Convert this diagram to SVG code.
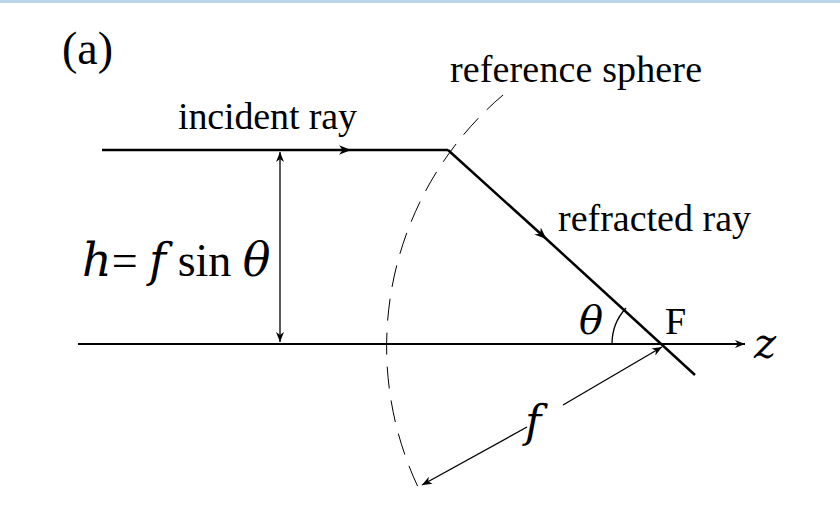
<svg xmlns="http://www.w3.org/2000/svg" width="840" height="510" viewBox="0 0 840 510">
<style>
text{font-family:"Liberation Serif",serif;fill:#000}
.m{font-family:"DejaVu Serif","Liberation Serif",serif;font-style:italic}
.l{stroke:#000;fill:none}
</style>
<defs>
<marker id="a" viewBox="0 0 10 10" refX="10" refY="5" markerWidth="10" markerHeight="10" markerUnits="userSpaceOnUse" orient="auto-start-reverse"><path d="M0,1 L10,5 L0,9 L3,5z"/></marker>
<marker id="b" viewBox="0 0 10 10" refX="5" refY="5" markerWidth="12" markerHeight="12" markerUnits="userSpaceOnUse" orient="auto"><path d="M0,1 L10,5 L0,9 L3,5z"/></marker>
</defs>
<rect width="840" height="510" fill="#fff"/>
<line x1="0" y1="1.5" x2="840" y2="1.5" stroke="#bcd4ea" stroke-width="3"/>
<g id="sphere"><path class="l" stroke-width="1" stroke-dasharray="22,12" d="M503,95 A330,330 0 0,0 418,487"/></g>
<g id="connectors">
<line class="l" stroke-width="2" x1="78" y1="344" x2="745" y2="344" marker-end="url(#a)"/>
<polyline class="l" stroke-width="2.5" points="102,150 345,150 448,150" marker-mid="url(#b)"/>
<polyline class="l" stroke-width="2.5" points="448,150 542,235 695,375" marker-mid="url(#b)"/>
<line class="l" stroke-width="1.3" x1="280" y1="152" x2="280" y2="342" marker-start="url(#a)" marker-end="url(#a)"/>
<line class="l" stroke-width="1.3" x1="422" y1="485" x2="527" y2="427" marker-start="url(#a)"/>
<line class="l" stroke-width="1.3" x1="563" y1="405" x2="662" y2="347" marker-end="url(#a)"/>
<path class="l" stroke-width="1.3" d="M612,344 A53,53 0 0,1 626,308"/>
</g>
<g id="labels">
<text x="62" y="64" font-size="46">(a)</text>
<text x="450" y="82" font-size="38" textLength="252">reference sphere</text>
<text x="178" y="129" font-size="38" textLength="179">incident ray</text>
<text x="558" y="231" font-size="38" textLength="193">refracted ray</text>
<text x="82" y="276" font-size="46"><tspan class="m">h</tspan>= <tspan class="m">f</tspan> sin <tspan class="m">θ</tspan></text>
<text x="579" y="334" font-size="40" class="m">θ</text>
<text x="665" y="334" font-size="38">F</text>
<text x="754" y="358" font-size="42" class="m">z</text>
<text x="525" y="437" font-size="44" class="m">f</text>
</g>
</svg>
